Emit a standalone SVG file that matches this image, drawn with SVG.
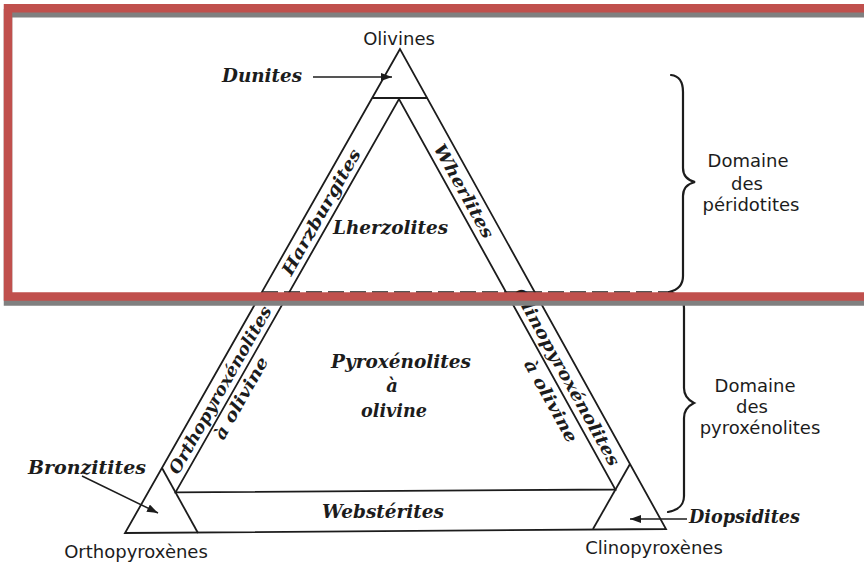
<svg xmlns="http://www.w3.org/2000/svg" width="864" height="564" viewBox="0 0 864 564">
<defs>
<style>
.ln{fill:none;stroke:#1c1c1c;stroke-width:1.8;stroke-linejoin:miter}
.br{fill:none;stroke:#1c1c1c;stroke-width:2.2;stroke-linecap:round}
.dash{fill:none;stroke:#1c1c1c;stroke-width:1.4;stroke-dasharray:16 6}
.sans{font-family:"DejaVu Sans","Liberation Sans",sans-serif;font-size:18px;fill:#1c1c1c}
.it{font-family:"DejaVu Serif","Liberation Serif",serif;font-style:italic;font-weight:bold;font-size:18px;fill:#1c1c1c}
.st{font-family:"DejaVu Serif","Liberation Serif",serif;font-style:italic;font-weight:bold;font-size:17px;fill:#1c1c1c}
.arr{fill:none;stroke:#1c1c1c;stroke-width:1.5}
</style>
<marker id="ah" markerUnits="userSpaceOnUse" markerWidth="11" markerHeight="8" refX="11" refY="4" orient="auto">
<path d="M0,0 L11,4 L0,8 z" fill="#1c1c1c"/>
</marker>
</defs>
<rect x="0" y="0" width="864" height="564" fill="#ffffff"/>

<g id="triangle">
<polygon class="ln" points="400,49 125,533 666,529"/>
<line class="ln" x1="372.2" y1="98" x2="427.2" y2="98"/>
<polygon class="ln" points="175.5,492.4 399,99 615.4,489.5"/>
<line class="ln" x1="162" y1="468" x2="198" y2="533"/>
<line class="ln" x1="630" y1="464" x2="593" y2="529"/>
<line class="dash" x1="262" y1="292" x2="668" y2="292"/>
</g>

<g id="vertex-olivines"><text class="sans" x="399" y="45" text-anchor="middle">Olivines</text></g>
<g id="vertex-orthopyroxenes"><text class="sans" x="136" y="558" text-anchor="middle">Orthopyroxènes</text></g>
<g id="vertex-clinopyroxenes"><text class="sans" x="654" y="554" text-anchor="middle">Clinopyroxènes</text></g>

<g id="field-dunites"><text class="it" x="222" y="82" textLength="80" lengthAdjust="spacingAndGlyphs">Dunites</text></g>
<g id="field-lherzolites"><text class="it" x="333" y="234" textLength="115" lengthAdjust="spacingAndGlyphs">Lherzolites</text></g>
<g id="field-harzburgites"><text class="st" transform="translate(321,212) rotate(-60.4)" x="0" y="6" text-anchor="middle" textLength="142" lengthAdjust="spacingAndGlyphs">Harzburgites</text></g>
<g id="field-wherlites"><text class="st" transform="translate(464,191) rotate(61)" x="0" y="6" text-anchor="middle" textLength="105" lengthAdjust="spacingAndGlyphs">Wherlites</text></g>
<g id="field-pyroxenolites">
<text class="it" x="401" y="368" text-anchor="middle" textLength="140" lengthAdjust="spacingAndGlyphs">Pyroxénolites</text>
<text class="it" x="392" y="392" text-anchor="middle">à</text>
<text class="it" x="394" y="417" text-anchor="middle" textLength="66" lengthAdjust="spacingAndGlyphs">olivine</text>
</g>
<g id="field-orthopyroxenolites">
<text class="st" transform="translate(220,390) rotate(-60.4)" x="0" y="6" text-anchor="middle" textLength="190" lengthAdjust="spacingAndGlyphs">Orthopyroxénolites</text>
<text class="st" transform="translate(241,398) rotate(-60.4)" x="0" y="6" text-anchor="middle" textLength="92" lengthAdjust="spacingAndGlyphs">à olivine</text>
</g>
<g id="field-clinopyroxenolites">
<text class="st" transform="translate(567,377) rotate(61)" x="0" y="6" text-anchor="middle" textLength="200" lengthAdjust="spacingAndGlyphs">Clinopyroxénolites</text>
<text class="st" transform="translate(551,401) rotate(61)" x="0" y="6" text-anchor="middle" textLength="92" lengthAdjust="spacingAndGlyphs">à olivine</text>
</g>
<g id="field-websterites"><text class="it" x="322" y="518" textLength="122" lengthAdjust="spacingAndGlyphs">Webstérites</text></g>
<g id="field-bronzitites"><text class="it" x="28" y="474" textLength="118" lengthAdjust="spacingAndGlyphs">Bronzitites</text></g>
<g id="field-diopsidites"><text class="it" x="689" y="523" textLength="111" lengthAdjust="spacingAndGlyphs">Diopsidites</text></g>

<g id="domain-peridotites">
<path class="br" d="M671,75 C680,76 683,82 683,92 L683,168 C683,176 687,180 695,182 C687,184 683,188 683,196 L683,276 C683,285 678,290 669,292"/>
<text class="sans" x="748" y="167" text-anchor="middle">Domaine</text>
<text class="sans" x="747" y="190" text-anchor="middle">des</text>
<text class="sans" x="751" y="211" text-anchor="middle">péridotites</text>
</g>
<g id="domain-pyroxenolites">
<path class="br" d="M669,292 C678,294 684,299 684,308 L684,388 C684,396 688,400 694,403 C688,406 684,410 684,418 L684,496 C684,506 678,510 668,512"/>
<text class="sans" x="755" y="392" text-anchor="middle">Domaine</text>
<text class="sans" x="752" y="413" text-anchor="middle">des</text>
<text class="sans" x="760" y="434" text-anchor="middle">pyroxénolites</text>
</g>

<g id="connectors">
<line class="arr" x1="313" y1="77" x2="392" y2="77" marker-end="url(#ah)"/>
<line class="arr" x1="82" y1="476" x2="158" y2="513" marker-end="url(#ah)"/>
<line class="arr" x1="687" y1="519" x2="630" y2="519" marker-end="url(#ah)"/>
</g>

<g id="highlight-frame">
<rect x="8" y="13.25" width="900" height="288.25" fill="none" stroke="#808080" stroke-width="8.5"/>
<rect x="8" y="8.25" width="900" height="288.25" fill="none" stroke="#C0504D" stroke-width="8.5"/>
</g>
</svg>
